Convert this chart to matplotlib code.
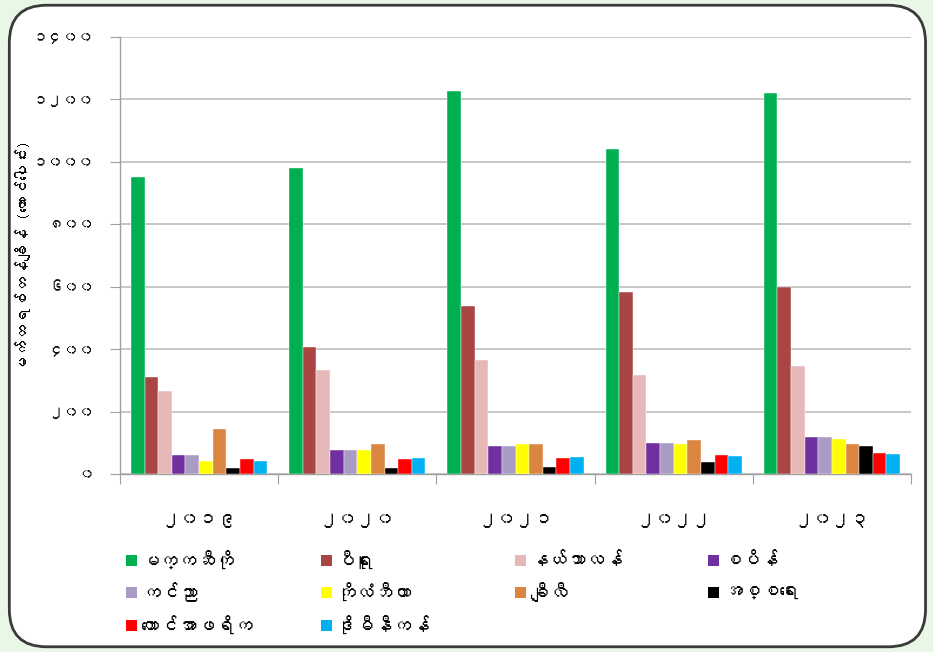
import numpy as np
import matplotlib
matplotlib.use("Agg")
import matplotlib.pyplot as plt
from matplotlib import font_manager
from matplotlib.patches import FancyBboxPatch, Rectangle
from matplotlib.ft2font import FT2Font

# ---------------- data ----------------
years = ["၂၀၁၉", "၂၀၂၀", "၂၀၂၁", "၂၀၂၂", "၂၀၂၃"]
countries = ["မက္ကဆီကို", "ပီရူး", "နယ်သာလန်", "စပိန်", "ကင်ညာ",
             "ကိုလံဘီယာ", "ချီလီ", "အစ္စရေး", "တောင်အာဖရိက", "ဒိုမီနီကန်"]
mexico       = [952, 979, 1228, 1041, 1220]
peru         = [310, 408, 539, 582, 598]
netherlands  = [267, 333, 365, 317, 346]
spain        = [62, 77, 91, 100, 120]
kenya        = [62, 77, 91, 100, 120]
colombia     = [41, 77, 96, 96, 111]
chile        = [143, 96, 96, 109, 96]
israel       = [18, 18, 24, 37, 91]
south_africa = [47, 47, 50, 61, 68]
dominican    = [42, 50, 53, 58, 64]
series = [mexico, peru, netherlands, spain, kenya, colombia, chile,
          israel, south_africa, dominican]
colors = ["#00B050", "#A94644", "#E6B9B8", "#7030A0", "#A99BC3",
          "#FFFF00", "#DA8540", "#000000", "#FF0000", "#00B0F0"]
yticks = [0, 200, 400, 600, 800, 1000, 1200, 1400]
ytick_labels = ["၀", "၂၀၀", "၄၀၀", "၆၀၀", "၈၀၀", "၁၀၀၀", "၁၂၀၀", "၁၄၀၀"]
ylabel = "မက်ထရစ်တန်ချိန် (ထောင်ပေါင်း)"

# ---------------- font with Myanmar coverage, if any ----------------
fam = ["DejaVu Sans"]
try:
    for f in sorted(font_manager.findSystemFonts()):
        try:
            cm = FT2Font(f).get_charmap()
            if 0x1000 in cm and 0x1039 in cm:
                name = font_manager.FontProperties(fname=f).get_name()
                fam = [name, "DejaVu Sans"]
                break
        except Exception:
            pass
except Exception:
    pass
plt.rcParams["font.family"] = fam

W, H = 933, 652
fig = plt.figure(figsize=(W / 100, H / 100), dpi=100)
fig.patch.set_facecolor("#E9F7E6")
frame = FancyBboxPatch((0.010, 0.008), 0.982, 0.984,
                       boxstyle="round,pad=0,rounding_size=0.04",
                       transform=fig.transFigure, facecolor="white",
                       edgecolor="#3a3a3a", linewidth=2.0, zorder=-5,
                       mutation_aspect=W / H)
fig.patches.append(frame)

ax = fig.add_axes([120 / W, 1 - 474 / H, (911 - 120) / W, (474 - 37) / H])
ax.set_zorder(3)
ax.set_facecolor("none")

n = len(series)
bw = 0.086
x = np.arange(len(years))
for i, (vals, c) in enumerate(zip(series, colors)):
    ax.bar(x + (i - (n - 1) / 2) * bw, vals, width=bw, color=c,
           edgecolor="white", linewidth=0.3, zorder=3, label=countries[i])

ax.set_xlim(-0.5, len(years) - 0.5)
ax.set_ylim(0, 1400)
ax.set_yticks(yticks)
ax.set_yticklabels(ytick_labels, fontsize=11)
ax.yaxis.grid(True, color="#BEBEBE", linewidth=1.2, zorder=0)
ax.set_axisbelow(True)
ax.set_xticks(np.arange(-0.5, len(years), 1.0))
ax.set_xticklabels([""] * (len(years) + 1))
ax.set_xticks(x, minor=True)
ax.set_xticklabels(years, minor=True, fontsize=13.5)
ax.tick_params(axis="x", which="minor", length=0, pad=27)
ax.tick_params(axis="x", which="major", length=7, color="#A0A0A0")
ax.tick_params(axis="y", length=7, color="#A0A0A0", pad=12)
for s in ["top", "right"]:
    ax.spines[s].set_visible(False)
for s in ["left", "bottom"]:
    ax.spines[s].set_color("#A0A0A0")
    ax.spines[s].set_linewidth(1.0)

ax.set_ylabel(ylabel, fontsize=11.5)
ax.yaxis.set_label_coords(-89 / 791, 0.5)

# legend: 4 columns, filled row by row, rows aligned
col_x = [126, 321, 515, 708]
row_y = [560, 592, 625]
sq = 11
for i, (name, c) in enumerate(zip(countries, colors)):
    r, k = divmod(i, 4)
    cx, cy = col_x[k], row_y[r]
    fig.patches.append(Rectangle((cx / W, 1 - (cy + sq / 2) / H), sq / W, sq / H,
                                 transform=fig.transFigure, facecolor=c,
                                 edgecolor="none", zorder=5))
    fig.text((cx + sq + 4) / W, 1 - cy / H, name, fontsize=13.5,
             ha="left", va="center", zorder=5)

fig.savefig("out.png", dpi=100, facecolor=fig.get_facecolor())
